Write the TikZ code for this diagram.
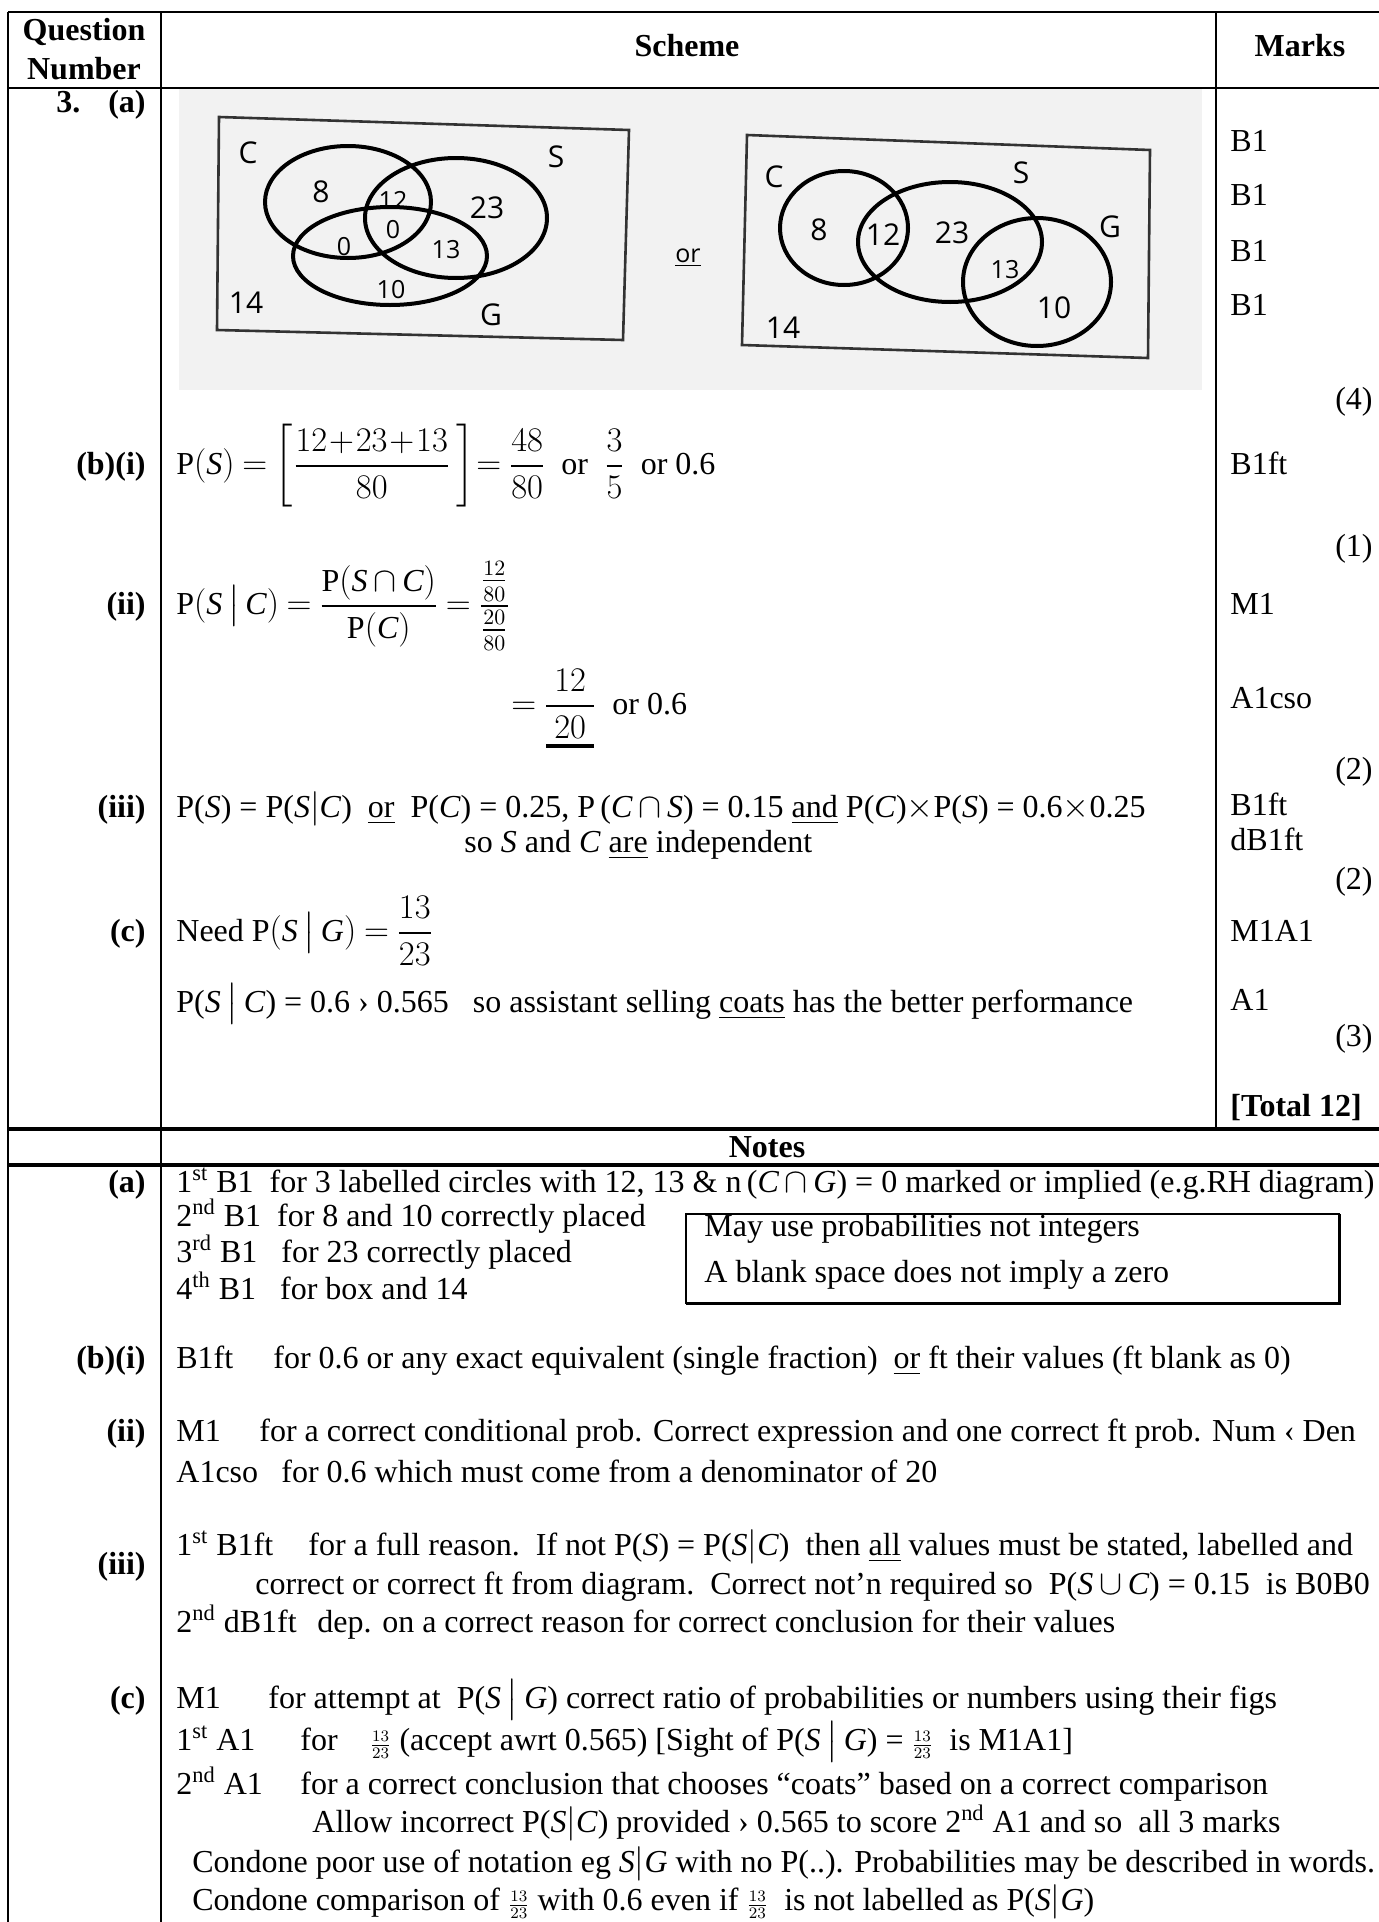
\documentclass[tikz,border=0pt]{standalone}
\usepackage{amsmath}
\usepackage{fontspec}
\setmainfont{Liberation Serif}
\newfontfamily\tnr[NFSSFamily=tnr]{Liberation Serif}
\newfontfamily\handfont{Open Sans}
\DeclareSymbolFont{tnrup}{TU}{tnr}{m}{n}
\DeclareSymbolFont{tnrit}{TU}{tnr}{m}{it}
\DeclareMathSymbol{0}{\mathalpha}{tnrup}{"30}
\DeclareMathSymbol{1}{\mathalpha}{tnrup}{"31}
\DeclareMathSymbol{2}{\mathalpha}{tnrup}{"32}
\DeclareMathSymbol{3}{\mathalpha}{tnrup}{"33}
\DeclareMathSymbol{4}{\mathalpha}{tnrup}{"34}
\DeclareMathSymbol{5}{\mathalpha}{tnrup}{"35}
\DeclareMathSymbol{6}{\mathalpha}{tnrup}{"36}
\DeclareMathSymbol{7}{\mathalpha}{tnrup}{"37}
\DeclareMathSymbol{8}{\mathalpha}{tnrup}{"38}
\DeclareMathSymbol{9}{\mathalpha}{tnrup}{"39}
\DeclareMathSymbol{.}{\mathord}{tnrup}{"2E}
\DeclareMathSymbol{+}{\mathbin}{tnrup}{"2B}
\DeclareMathSymbol{=}{\mathrel}{tnrup}{"3D}
\DeclareMathSymbol{(}{\mathopen}{tnrup}{"28}
\DeclareMathSymbol{)}{\mathclose}{tnrup}{"29}
\DeclareMathSymbol{P}{\mathalpha}{tnrup}{"50}
\DeclareMathSymbol{S}{\mathalpha}{tnrit}{"53}
\DeclareMathSymbol{C}{\mathalpha}{tnrit}{"43}
\DeclareMathSymbol{G}{\mathalpha}{tnrit}{"47}
\thickmuskip=4mu plus 2mu
\medmuskip=3mu plus 1mu
\newcommand\bodysize{\fontsize{16}{19.2}\selectfont}
\newcommand\thickul[1]{\vtop{\hbox{\kern4pt#1\kern4pt}\kern3pt\hrule height 1.6pt}}
\newcommand\given{\,\big|\,}
\newcommand\nfr[2]{${\scriptstyle\frac{#1}{#2}}$}
\tikzset{
	txt/.style={anchor=mid west},
	qlbl/.style={anchor=mid east, font=\bodysize\bfseries},
	head/.style={font=\bodysize\bfseries},
	mtot/.style={anchor=mid east},
	hand/.style={font=\handfont\fontsize{15}{15}\selectfont},
	handsm/.style={font=\handfont\fontsize{12.5}{12.5}\selectfont},
	rule/.style={line width=1pt},
	thickrule/.style={line width=1.6pt},
	sketch/.style={line width=1.3pt, color=black!80},
	venn/.style={line width=2pt},
	photo/.style={fill=black!5}
}

\begin{document}
\begin{tikzpicture}[x=0.5pt, y=-0.5pt, every node/.style={inner sep=0pt, font=\bodysize}]
			%%%%% START %%%%%
			\useasboundingbox (0,0) rectangle (1379,1922);
			\fill[white] (0,0) rectangle (1379,1922);

			% table rules
			\draw[rule] (8,12) -- (1379,12);
			\draw[rule] (8,88) -- (1379,88);
			\draw[rule] (8,12) -- (8,1922);
			\draw[rule] (161,12) -- (161,1922);
			\draw[rule] (1216,12) -- (1216,1129);
			\draw[thickrule] (8,1129) -- (1379,1129);
			\draw[thickrule] (8,1165) -- (1379,1165);

			% headings
			\node[head, align=center] (qnum) at (84,49) {Question\\Number};
			\node[head] (schemehd) at (687,46) {Scheme};
			\node[head] (markshd) at (1300,46) {Marks};
			\node[head, anchor=mid west] (qthree) at (56,108) {3.};
			\node[qlbl] (qa) at (146,108) {(a)};
			\node[qlbl] (qbi) at (146,470) {(b)(i)};
			\node[qlbl] (qbii) at (146,610) {(ii)};
			\node[qlbl] (qbiii) at (146,813) {(iii)};
			\node[qlbl] (qc) at (146,937) {(c)};

			% photo of the two sketches
			\fill[photo] (179,89) rectangle (1202,390);

			\draw[sketch] (219,117) -- (629,130) -- (623,340) -- (217,330) -- cycle;
			\draw[venn] (348,202) ellipse [x radius=83, y radius=56];
			\draw[venn] (456,218) ellipse [x radius=91, y radius=60];
			\draw[venn] (390,256) ellipse [x radius=97, y radius=49];
			\node[hand] (lc) at (248,153) {C};
			\node[hand] (ls) at (556,157) {S};
			\node[hand] (lg) at (491,315) {G};
			\node[hand] (lfourteen) at (246,303) {14};
			\node[hand] (leight) at (321,192) {8};
			\node[handsm] (ltwelve) at (393,200) {12};
			\node[hand] (ltwthree) at (487,208) {23};
			\node[handsm] (lzeroa) at (393,230) {0};
			\node[handsm] (lzerob) at (344,247) {0};
			\node[handsm] (lthirteen) at (446,250) {13};
			\node[handsm] (lten) at (391,290) {10};

			\node[handsm] (orword) at (688,258) {\underline{or}};

			\draw[sketch] (747,135) -- (1150,150) -- (1148,358) -- (742,345) -- cycle;
			\draw[venn] (844,228) ellipse [x radius=64, y radius=57];
			\draw[venn] (950,242) ellipse [x radius=92, y radius=60];
			\draw[venn] (1037,282) ellipse [x radius=74, y radius=64];
			\node[hand] (rc) at (774,177) {C};
			\node[hand] (rs) at (1021,173) {S};
			\node[hand] (rg) at (1110,227) {G};
			\node[hand] (rfourteen) at (783,328) {14};
			\node[hand] (reight) at (819,230) {8};
			\node[hand] (rtwelve) at (883,235) {12};
			\node[hand] (rtwthree) at (952,233) {23};
			\node[handsm] (rthirteen) at (1005,270) {13};
			\node[hand] (rten) at (1054,308) {10};

			% scheme
			\node[txt] (bione) at (176,470) {$P(S)=\left[\dfrac{12\mkern1mu{+}\mkern1mu23\mkern1mu{+}\mkern1mu13}{80}\,\right]\!=\dfrac{48}{80}$\ \ or\ \ $\dfrac{3}{5}$\ \ or 0.6};
			\node[txt] (biione) at (176,610) {$P(S\given C)=\dfrac{P(S\cap C)}{P(C)}=\dfrac{\frac{12}{80}}{\frac{20}{80}}$};
			\node[txt] (biitwo) at (511,710) {$=\dfrac{12}{\thickul{$20$}}$\ \ or 0.6};
			\node[txt] (biiione) at (176,813) {P(\textit{S}) = P(\textit{S}$|$\textit{C})\ \ \underline{or}\ \ P(\textit{C}) = 0.25, P\,($C\cap S$) = 0.15 \underline{and} P(\textit{C})$\times$P(\textit{S}) = 0.6$\times$0.25};
			\node[txt] (biiitwo) at (464,848) {so \textit{S} and \textit{C} \underline{are} independent};
			\node[txt] (cone) at (176,937) {Need $P(S\given G)=\dfrac{13}{23}$};
			\node[txt] (ctwo) at (176,1008) {P(\textit{S}$\given$\textit{C}) = 0.6 › 0.565\ \ \ so assistant selling \underline{coats} has the better performance};

			% marks
			\node[txt] (ma) at (1230,147) {B1};
			\node[txt] (mb) at (1230,201) {B1};
			\node[txt] (mc) at (1230,257) {B1};
			\node[txt] (md) at (1230,311) {B1};
			\node[mtot] (tfour) at (1373,405) {(4)};
			\node[txt] (me) at (1230,470) {B1ft};
			\node[mtot] (tone) at (1373,552) {(1)};
			\node[txt] (mf) at (1230,610) {M1};
			\node[txt] (mg) at (1230,704) {A1cso};
			\node[mtot] (ttwoa) at (1373,775) {(2)};
			\node[txt] (mh) at (1230,811) {B1ft};
			\node[txt] (mi) at (1230,846) {dB1ft};
			\node[mtot] (ttwob) at (1373,885) {(2)};
			\node[txt] (mj) at (1230,937) {M1A1};
			\node[txt] (mk) at (1230,1006) {A1};
			\node[mtot] (tthree) at (1373,1042) {(3)};
			\node[txt, font=\bodysize\bfseries] (mtotal) at (1230,1112) {[Total 12]};

			% notes
			\node[head] (noteshd) at (767,1147) {Notes};
			\node[qlbl] (na) at (146,1188) {(a)};
			\node[qlbl] (nbi) at (146,1364) {(b)(i)};
			\node[qlbl] (nbii) at (146,1437) {(ii)};
			\node[qlbl] (nbiii) at (146,1570) {(iii)};
			\node[qlbl] (nc) at (146,1704) {(c)};

			\node[txt] (naone) at (176,1188) {1\textsuperscript{st} B1\ \ for 3 labelled circles with 12, 13 \& n\,($C\cap G$) = 0 marked or implied (e.g.RH diagram)};
			\node[txt] (natwo) at (176,1222) {2\textsuperscript{nd} B1\ \ for 8 and 10 correctly placed};
			\node[txt] (nathree) at (176,1258) {3\textsuperscript{rd} B1\ \ \ for 23 correctly placed};
			\node[txt] (nafour) at (176,1295) {4\textsuperscript{th} B1\ \ \ for box and 14};
			\draw[line width=0.9pt] (686,1214) rectangle (1339,1303);
			\draw[line width=1.5pt] (1339,1214) -- (1339,1303) -- (686,1303);
			\node[txt] (boxone) at (704,1232) {May use probabilities not integers};
			\node[txt] (boxtwo) at (704,1278) {A blank space does not imply a zero};

			\node[txt] (nbicode) at (176,1364) {B1ft};
			\node[txt] (nbitext) at (273,1364) {for 0.6 or any exact equivalent (single fraction)\ \ \underline{or} ft their values (ft blank as 0)};
			\node[txt] (nbiicode) at (176,1437) {M1};
			\node[txt] (nbiitext) at (259,1437) {for a correct conditional prob. Correct expression and one correct ft prob. Num ‹ Den};
			\node[txt] (nbiicodeb) at (176,1478) {A1cso};
			\node[txt] (nbiitextb) at (281,1478) {for 0.6 which must come from a denominator of 20};
			\node[txt] (nbiiicode) at (176,1551) {1\textsuperscript{st} B1ft};
			\node[txt] (nbiiitext) at (308,1551) {for a full reason.\ \ If not P(\textit{S}) = P(\textit{S}$|$\textit{C})\ \ then \underline{all} values must be stated, labelled and};
			\node[txt] (nbiiitextb) at (255,1590) {correct or correct ft from diagram.\ \ Correct not’n required so\ \ P($S\cup C$) = 0.15\ \ is B0B0};
			\node[txt] (nbiiicodeb) at (176,1628) {2\textsuperscript{nd} dB1ft};
			\node[txt] (nbiiitextc) at (317,1628) {dep. on a correct reason for correct conclusion for their values};
			\node[txt] (nccode) at (176,1704) {M1};
			\node[txt] (nctext) at (268,1704) {for attempt at\ \ P(\textit{S}$\given$\textit{G}) correct ratio of probabilities or numbers using their figs};
			\node[txt] (nccodeb) at (176,1746) {1\textsuperscript{st} A1};
			\node[txt] (nctextb) at (300,1746) {for\ \ \ \ \nfr{13}{23} (accept awrt 0.565) [Sight of P(\textit{S}$\given$\textit{G}) = \nfr{13}{23}\ \ is M1A1]};
			\node[txt] (nccodec) at (176,1790) {2\textsuperscript{nd} A1};
			\node[txt] (nctextc) at (300,1790) {for a correct conclusion that chooses “coats” based on a correct comparison};
			\node[txt] (nctextd) at (312,1828) {Allow incorrect P(\textit{S}$|$\textit{C}) provided › 0.565 to score 2\textsuperscript{nd} A1 and so\ \ all 3 marks};
			\node[txt] (ncondone) at (192,1868) {Condone poor use of notation eg \textit{S}$|$\textit{G} with no P(..). Probabilities may be described in words.};
			\node[txt] (ncondoneb) at (192,1906) {Condone comparison of \nfr{13}{23} with 0.6 even if \nfr{13}{23}\ \ is not labelled as P(\textit{S}$|$\textit{G})};
			%%%%% END %%%%%
\end{tikzpicture}
\end{document}
